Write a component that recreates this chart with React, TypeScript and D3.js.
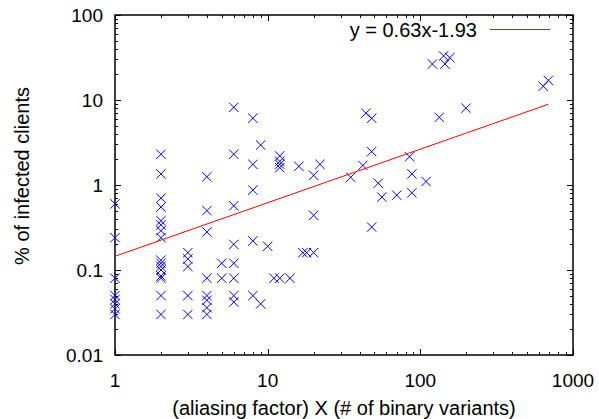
import React from 'react';
import * as d3 from 'd3';

// x = aliasing factor (# of binary variants), y = % of infected clients
const xVals = [
  1, 1, 1, 1, 1, 1, 1, 1,
  2, 2, 2, 2, 2, 2, 2, 2, 2, 2, 2, 2, 2, 2, 2, 2,
  3, 3, 3, 3, 3,
  4, 4, 4, 4, 4, 4, 4, 4,
  5, 5,
  6, 6, 6, 6, 6, 6, 6, 6,
  8, 8, 8, 8, 8,
  9, 9,
  10, 11,
  12, 12, 12, 12, 12,
  14, 16, 17, 18,
  20, 20, 20,
  22, 35, 42, 44,
  48, 48, 48,
  53, 56, 70, 85, 88, 88, 109,
  120, 133, 142, 145, 156, 199, 638, 689,
];
const yVals = [
  0.6, 0.24, 0.08, 0.05, 0.045, 0.04, 0.035, 0.03,
  2.3, 1.35, 0.7, 0.55, 0.38, 0.34, 0.29, 0.24, 0.13, 0.12, 0.11, 0.1, 0.085, 0.08, 0.05, 0.03,
  0.16, 0.135, 0.11, 0.05, 0.03,
  1.25, 0.5, 0.28, 0.08, 0.05, 0.044, 0.036, 0.03,
  0.12, 0.08,
  8.2, 2.3, 0.57, 0.2, 0.12, 0.08, 0.05, 0.042,
  6.1, 1.75, 0.87, 0.22, 0.05,
  2.95, 0.04,
  0.19, 0.08,
  2.2, 1.9, 1.75, 1.6, 0.08,
  0.08, 1.66, 0.16, 0.16,
  1.3, 0.44, 0.16,
  1.75, 1.23, 1.7, 7.0,
  6.1, 2.47, 0.32,
  1.05, 0.72, 0.76, 2.15, 1.35, 0.81, 1.1,
  26.5, 6.25, 33, 26.5, 31.5, 8, 14.5, 17,
];

// fit: ln(y) = a ln(x) + b
const FIT_A = 0.63;
const FIT_B = -1.93;
const FIT_LABEL = 'y = 0.63x-1.93';

const xMajor = [1, 10, 100, 1000];
const yMajor = [0.01, 0.1, 1, 10, 100];
const yLabels = ['0.01', '0.1', '1', '10', '100'];

const X_TITLE = '(aliasing factor) X (# of binary variants)';
const Y_TITLE = '% of infected clients';

const W = 599, H = 419;
const m = { left: 115, right: 26, top: 15, bottom: 64 };
const FONT = '"Liberation Sans", Arial, sans-serif';
const TICK_FS = 19;
const TITLE_FS = 20;

export default function App() {
  const x = d3.scaleLog().domain([1, 1000]).range([m.left, W - m.right]);
  const y = d3.scaleLog().domain([0.01, 100]).range([H - m.bottom, m.top]);
  const [x0, x1] = x.range();
  const [y0, y1] = y.range(); // y0 bottom, y1 top

  const minor = (majors: number[]) => {
    const out: number[] = [];
    for (let i = 0; i < majors.length - 1; i++)
      for (let k = 2; k <= 9; k++) out.push(majors[i] * k);
    return out;
  };
  const xMinor = minor(xMajor);
  const yMinor = minor(yMajor);
  const MAJ = 6, MIN = 3;

  const pts = xVals.map((v, i) => ({ x: v, y: yVals[i] }));
  const fitX = d3.extent(xVals) as [number, number];
  const fit = fitX.map(v => ({ x: v, y: Math.exp(FIT_A * Math.log(v) + FIT_B) }));
  const line = d3.line<{ x: number; y: number }>().x(d => x(d.x)).y(d => y(d.y));
  const s = 4.7;

  return (
    <svg width={W} height={H} style={{ position: 'absolute', left: 0, top: 0, background: '#fff' }}
      fontFamily={FONT}>
      {/* ticks, mirrored on all sides */}
      <g stroke="#000" strokeWidth={1}>
        {xMajor.concat(xMinor).map((v, i) => {
          const len = xMajor.includes(v) ? MAJ : MIN;
          const px = Math.round(x(v)) + 0.5;
          return (
            <g key={'xt' + i}>
              <line x1={px} x2={px} y1={y0} y2={y0 - len} />
              <line x1={px} x2={px} y1={y1} y2={y1 + len} />
            </g>
          );
        })}
        {yMajor.concat(yMinor).map((v, i) => {
          const len = yMajor.includes(v) ? MAJ : MIN;
          const py = Math.round(y(v)) + 0.5;
          return (
            <g key={'yt' + i}>
              <line x1={x0} x2={x0 + len} y1={py} y2={py} />
              <line x1={x1} x2={x1 - len} y1={py} y2={py} />
            </g>
          );
        })}
      </g>

      {/* frame */}
      <rect x={x0} y={y1} width={x1 - x0} height={y0 - y1} fill="none" stroke="#000" strokeWidth={1.5} />

      {/* tick labels */}
      {xMajor.map(v => (
        <text key={'xl' + v} x={x(v)} y={y0 + 32} textAnchor="middle" fontSize={TICK_FS}>{v}</text>
      ))}
      {yMajor.map((v, i) => (
        <text key={'yl' + v} x={x0 - 12} y={y(v) + 7} textAnchor="end" fontSize={TICK_FS}>{yLabels[i]}</text>
      ))}

      {/* axis titles */}
      <text x={(x0 + x1) / 2} y={H - 4} textAnchor="middle" fontSize={TITLE_FS}>{X_TITLE}</text>
      <text transform={`translate(29,${(y0 + y1) / 2 - 9}) rotate(-90)`} textAnchor="middle" fontSize={TITLE_FS}>{Y_TITLE}</text>

      {/* data points */}
      <g stroke="#0000ff" strokeWidth={1}>
        {pts.map((d, i) => {
          const cx = x(d.x), cy = y(d.y);
          return (
            <path key={'p' + i} d={`M${cx - s},${cy - s}L${cx + s},${cy + s}M${cx - s},${cy + s}L${cx + s},${cy - s}`} />
          );
        })}
      </g>

      {/* fit line */}
      <path d={line(fit) || ''} fill="none" stroke="#ff0000" strokeWidth={1} />

      {/* legend */}
      <text x={477} y={37} textAnchor="end" fontSize={TITLE_FS}>{FIT_LABEL}</text>
      <line x1={490} x2={550} y1={29.5} y2={29.5} stroke="#ff0000" strokeWidth={1} />
    </svg>
  );
}
